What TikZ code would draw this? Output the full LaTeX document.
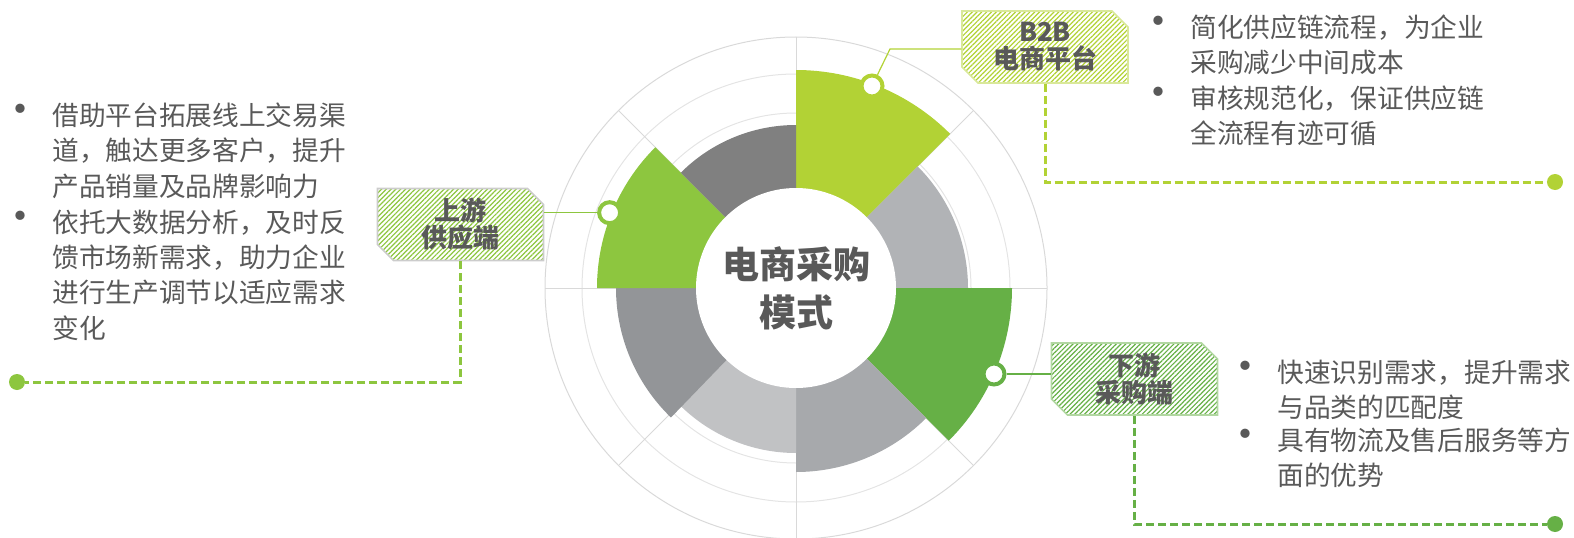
\documentclass[tikz,border=0pt]{standalone}
\usepackage{fontspec}
\usepackage{tikz}
\usetikzlibrary{shapes.misc,patterns.meta}
\newfontfamily\cjk{Noto Sans CJK SC}

\definecolor{limegreen}{RGB}{178,210,53}
\definecolor{leafgreen}{RGB}{141,198,63}
\definecolor{grassgreen}{RGB}{102,176,70}
\definecolor{darkslice}{RGB}{128,128,128}
\definecolor{paleslice}{RGB}{177,179,182}
\definecolor{midslice}{RGB}{167,169,172}
\definecolor{lightslice}{RGB}{193,194,196}
\definecolor{deepslice}{RGB}{147,149,152}
\definecolor{textgray}{RGB}{89,89,89}
\definecolor{gridgray}{RGB}{217,217,217}

\tikzset{
  gridline/.style={draw=gridgray, line width=0.5pt},
  tagbox/.style={chamfered rectangle, chamfered rectangle corners={north east,south west},
    chamfered rectangle xsep=4pt, chamfered rectangle ysep=4pt,
    minimum width=83pt, minimum height=36pt, inner sep=0pt,
    draw=#1!50, line width=0.8pt,
    pattern={Lines[angle=45,distance=1.7pt,line width=0.6pt]}, pattern color=#1,
    align=center, text=textgray, font=\cjk\bfseries\fontsize{13}{13.5}\selectfont},
  ringpin/.style={circle, fill=white, draw=#1, line width=2pt, minimum size=10.5pt, inner sep=0pt},
  enddot/.style={circle, fill=#1, minimum size=8pt, inner sep=0pt},
  solidlink/.style={draw=#1, line width=0.6pt},
  dashlink/.style={draw=#1, line width=1.5pt, dash pattern=on 4pt off 2pt},
  bodytext/.style={anchor=north west, inner sep=0pt, align=left, text=textgray,
    font=\cjk\fontsize{13.35}{17.65}\selectfont},
  listdot/.style={inner sep=0pt, text=textgray, font=\cjk\fontsize{22}{22}\selectfont}
}

\begin{document}
\begin{tikzpicture}[x=0.5pt,y=0.5pt]
\useasboundingbox (0,0) rectangle (1574,537);
\coordinate (ctr) at (796,249);

% grid rings
\draw[gridline] (ctr) circle[radius=251];
\draw[gridline, draw=gridgray!70] (ctr) circle[radius=214];
\draw[gridline, draw=gridgray!70] (ctr) circle[radius=175];
\draw[gridline] (545,249) -- (1047,249);
\draw[gridline] (796,-2) -- (796,500);
\draw[gridline] (618.5,71.5) -- (973.5,426.5);
\draw[gridline] (618.5,426.5) -- (973.5,71.5);

% slices
\fill[limegreen] (ctr) -- ++(45:218) arc[start angle=45,end angle=90,radius=218] -- cycle;
\fill[paleslice] (ctr) -- ++(0:172) arc[start angle=0,end angle=45,radius=172] -- cycle;
\fill[grassgreen] (ctr) -- ++(-45:216) arc[start angle=-45,end angle=0,radius=216] -- cycle;
\fill[midslice] (ctr) -- ++(-90:184) arc[start angle=-90,end angle=-45,radius=184] -- cycle;
\fill[lightslice] (ctr) -- ++(-135:165) arc[start angle=-135,end angle=-90,radius=165] -- cycle;
\fill[deepslice] (ctr) -- ++(180:180) arc[start angle=180,end angle=226,radius=180] -- cycle;
\fill[leafgreen] (ctr) -- ++(135:199) arc[start angle=135,end angle=180,radius=199] -- cycle;
\fill[darkslice] (ctr) -- ++(90:163) arc[start angle=90,end angle=135,radius=163] -- cycle;

% hub
\node[circle, fill=white, minimum size=100pt, inner sep=0pt, align=center, text=textgray,
  font=\cjk\bfseries\fontsize{18.5}{24}\selectfont] (hub) at (ctr) {电商采购\\模式};

% pins on the slices
\node[ringpin=limegreen] (pinb) at (872,451) {};
\node[ringpin=leafgreen] (pinu) at (609.6,324.3) {};
\node[ringpin=grassgreen] (pind) at (994,163) {};

% tags
\node[tagbox=limegreen] (b2b) at (1045,490) {B2B\\电商平台};
\node[tagbox=leafgreen, draw=gray!40] (upst) at (460.5,312.5) {上游\\供应端};
\node[tagbox=grassgreen] (downst) at (1134.5,158) {下游\\采购端};

\coordinate (kb) at (890,488);
\draw[solidlink=limegreen] (pinb) -- (kb) -- (kb -| b2b.west);
\draw[solidlink=leafgreen] (pinu) -- (pinu -| upst.east);
\draw[solidlink=grassgreen] (pind) -- (pind -| downst.west);

% dashed leaders
\node[enddot=limegreen] (endb) at (1555,355) {};
\node[enddot=leafgreen] (endu) at (17,155) {};
\node[enddot=grassgreen] (endd) at (1555,13) {};
\draw[dashlink=limegreen] (b2b.south) -- (b2b.south |- endb) -- (endb);
\draw[dashlink=leafgreen] (upst.south) -- (upst.south |- endu) -- (endu);
\draw[dashlink=grassgreen] (downst.south) -- (downst.south |- endd) -- (endd);

% notes
\node[listdot] (du1) at (20,422) {•};
\node[bodytext] (tu1) at (52,434.5) {借助平台拓展线上交易渠\\道，触达更多客户，提升\\产品销量及品牌影响力};
\node[listdot] (du2) at (20,315) {•};
\node[bodytext] (tu2) at (52,327.5) {依托大数据分析，及时反\\馈市场新需求，助力企业\\进行生产调节以适应需求\\变化};

\node[listdot] (db1) at (1158,510) {•};
\node[bodytext] (tb1) at (1190,522.5) {简化供应链流程，为企业\\采购减少中间成本};
\node[listdot] (db2) at (1158,439) {•};
\node[bodytext] (tb2) at (1190,451.5) {审核规范化，保证供应链\\全流程有迹可循};

\node[listdot] (dd1) at (1245,165) {•};
\node[bodytext] (td1) at (1277,177.5) {快速识别需求，提升需求\\与品类的匹配度};
\node[listdot] (dd2) at (1245,97) {•};
\node[bodytext] (td2) at (1277,109.5) {具有物流及售后服务等方\\面的优势};
\end{tikzpicture}
\end{document}
